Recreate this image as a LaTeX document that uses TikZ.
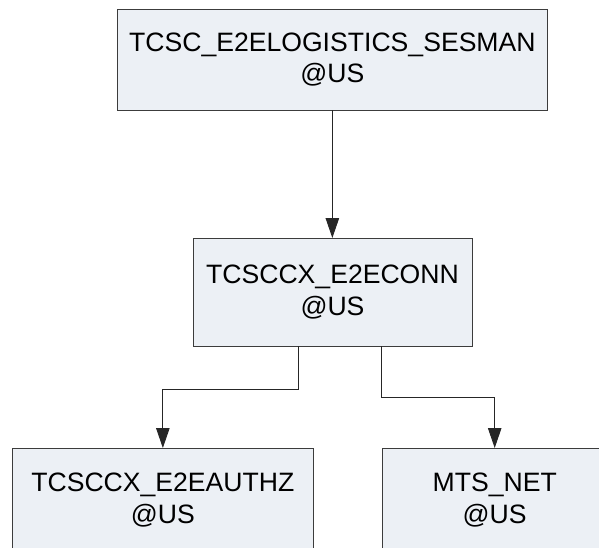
\documentclass[tikz,border=0pt]{standalone}
\usepackage{fontspec}
\setmainfont{Liberation Sans}
\usetikzlibrary{arrows.meta}
\definecolor{boxfill}{RGB}{236,240,245}
\definecolor{boxline}{RGB}{60,60,60}
\tikzset{
  box/.style={draw=boxline, fill=boxfill, line width=1pt, rectangle,
    inner sep=0pt, outer sep=0pt, align=center,
    font=\fontsize{26.6}{31.5}\selectfont},
  conn/.style={draw=black!85, line width=0.9pt,
    -{Triangle[length=20pt,width=13.5pt]}}
}
\begin{document}
\begin{tikzpicture}[x=1pt, y=-1pt]
  \useasboundingbox (0,0) rectangle (599,547);
  \clip (0,0) rectangle (599,547);
  \fill[white] (0,0) rectangle (599,547);

  % boxes
  \node[box, minimum width=429.3pt, minimum height=101pt] (sesman) at (332.35,59.5)
    {TCSC\_E2ELOGISTICS\_SESMAN\\@US};
  \node[box, minimum width=279pt, minimum height=108pt] (conn) at (332.5,292)
    {TCSCCX\_E2ECONN\\@US};
  \node[box, minimum width=300.3pt, minimum height=104pt] (authz) at (162.85,500)
    {TCSCCX\_E2EAUTHZ\\@US};
  \node[box, minimum width=225.4pt, minimum height=104pt] (mts) at (494.7,500)
    {MTS\_NET\\@US};

  % connectors
  \draw[conn] (sesman.south) -- (sesman.south |- conn.north);
  \draw[conn] ([xshift=-34pt]conn.south) -- ++(0,43.3) -| (authz.north);
  \draw[conn] ([xshift=49.2pt]conn.south) -- ++(0,51.7) -| (mts.north);
\end{tikzpicture}
\end{document}
